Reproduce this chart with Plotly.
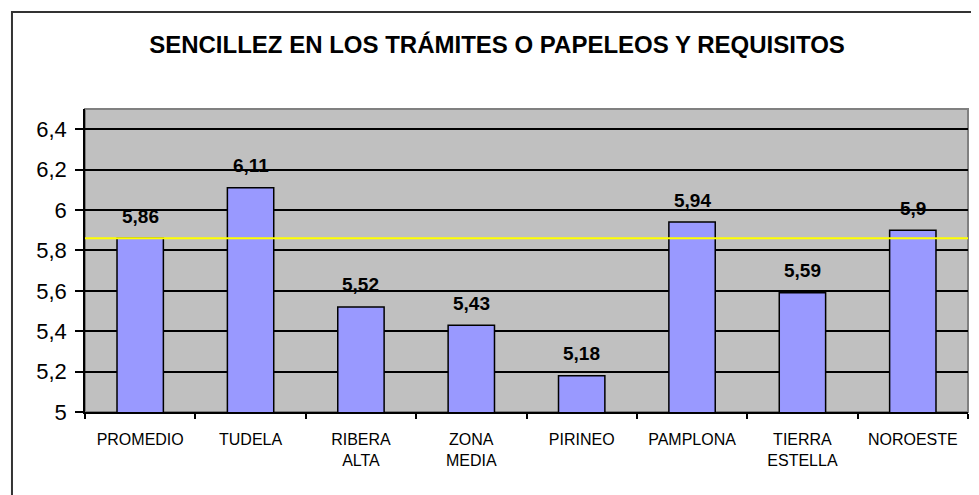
import plotly.graph_objects as go

# Data
categories = ["PROMEDIO", "TUDELA", "RIBERA<br>ALTA", "ZONA<br>MEDIA", "PIRINEO",
              "PAMPLONA", "TIERRA<br>ESTELLA", "NOROESTE"]
values = [5.86, 6.11, 5.52, 5.43, 5.18, 5.94, 5.59, 5.90]
y_ticks = [5, 5.2, 5.4, 5.6, 5.8, 6, 6.2, 6.4]

TITLE = "SENCILLEZ EN LOS TRÁMITES O PAPELEOS Y REQUISITOS"
FONT = "Liberation Sans, Arial, sans-serif"


def fmt(v: float) -> str:
    return f"{v:g}".replace(".", ",")


fig = go.Figure()
fig.add_trace(go.Bar(x=categories, y=values,
                     marker=dict(color="#9999FF",
                                 line=dict(color="black", width=1.5)),
                     hoverinfo="x+y"))

# Value labels above each bar
for c, v in zip(categories, values):
    fig.add_annotation(x=c, y=v, text=f"<b>{fmt(v)}</b>", showarrow=False,
                       yshift=22, font=dict(family=FONT, size=19, color="black"))

# Average line (PROMEDIO)
fig.add_shape(type="line", xref="paper", yref="y", x0=0, x1=1,
              y0=values[0], y1=values[0],
              line=dict(color="#FFFF00", width=2), layer="above")
# Grey plot border (top/right)
fig.add_shape(type="rect", xref="paper", yref="paper", x0=0, x1=1, y0=0, y1=1,
              line=dict(color="#808080", width=2), layer="below")
# Outer chart frame, cut by the picture edges
fig.add_shape(type="rect", xref="paper", yref="paper",
              x0=-0.0827, x1=1.03, y0=-0.32, y1=1.32,
              line=dict(color="#333333", width=2), layer="below")

# page body adds an 8px offset, so the figure is sized to fit the window
fig.update_layout(
    width=971, height=487,
    margin=dict(l=77, r=11, t=101, b=83),
    paper_bgcolor="white", plot_bgcolor="#C0C0C0",
    separators=",.",
    bargap=0.58,
    showlegend=False,
    font=dict(family=FONT, color="black"),
    title=dict(text=f"<b>{TITLE}</b>", x=489 / 971, xanchor="center",
               y=1 - 37 / 487, yanchor="middle",
               font=dict(family=FONT, size=24, color="black")),
)
fig.update_xaxes(showline=True, linecolor="black", linewidth=1.5,
                 ticks="outside", tickson="boundaries", ticklen=5,
                 tickcolor="black", tickwidth=1.5, ticklabelstandoff=12,
                 tickfont=dict(size=16), showgrid=False)
fig.update_yaxes(range=[5, 6.5], tickvals=y_ticks,
                 showline=True, linecolor="black", linewidth=1.5,
                 ticks="outside", ticklen=8, tickcolor="black", tickwidth=1.5,
                 ticklabelstandoff=4,
                 showgrid=True, gridcolor="black", gridwidth=1.5,
                 zeroline=False, tickfont=dict(size=22))

fig.write_html("out.html")
